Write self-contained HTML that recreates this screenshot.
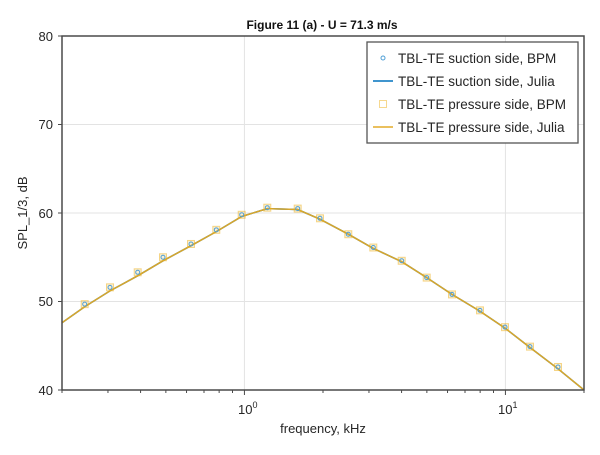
<!DOCTYPE html>
<html><head><meta charset="utf-8"><style>
body{margin:0;background:#fff;width:600px;height:450px;overflow:hidden}
svg text{font-family:"Liberation Sans",sans-serif;fill:#262626}
</style></head><body>
<svg id="s" width="600" height="450" viewBox="0 0 600 450">
<rect width="600" height="450" fill="#fff"/>
<g id="grid" stroke="#e3e3e3" stroke-width="1"></g>
<g id="data"></g>
<rect x="62" y="36" width="522" height="354" fill="none" stroke="#4a4a4a" stroke-width="1.5"/>
<g id="ticks" stroke="#4a4a4a" stroke-width="1"></g>
<text x="322" y="29" font-size="12" font-weight="bold" text-anchor="middle" style="fill:#111">Figure 11 (a) - U = 71.3 m/s</text>
<g font-size="13" text-anchor="end">
<text x="53" y="41">80</text><text x="53" y="129">70</text><text x="53" y="218">60</text><text x="53" y="306">50</text><text x="53" y="395">40</text>
</g>
<text x="238" y="414" font-size="13">10<tspan font-size="9" dy="-6">0</tspan></text>
<text x="498" y="414" font-size="13">10<tspan font-size="9" dy="-6">1</tspan></text>
<text x="323" y="433" font-size="13" text-anchor="middle">frequency, kHz</text>
<text transform="translate(27,213) rotate(-90)" font-size="13" text-anchor="middle">SPL_1/3, dB</text>
<rect x="367" y="42" width="211" height="101" fill="#fff" stroke="#555" stroke-width="1.3"/>
<circle cx="383" cy="58" r="2" fill="none" stroke="#4f9fd6" stroke-width="1"/>
<line x1="373" y1="81" x2="393" y2="81" stroke="#0072BD" stroke-width="1.5"/>
<rect x="379.5" y="100.5" width="7" height="7" fill="none" stroke="#EDB120" stroke-opacity="0.5" stroke-width="1"/>
<line x1="373" y1="127" x2="393" y2="127" stroke="#E3AC28" stroke-width="1.5"/>
<g font-size="13.5">
<text x="398" y="63">TBL-TE suction side, BPM</text>
<text x="398" y="86">TBL-TE suction side, Julia</text>
<text x="398" y="109">TBL-TE pressure side, BPM</text>
<text x="398" y="132">TBL-TE pressure side, Julia</text>
</g>
</svg>
<script>
var NS="http://www.w3.org/2000/svg";
function X(f){return 62+(Math.log10(f)+0.69897)*261;}
function Y(v){return 390-(v-40)*8.85;}
function el(p,t,a){var e=document.createElementNS(NS,t);for(var k in a)e.setAttribute(k,a[k]);p.appendChild(e);return e;}
var g=document.getElementById('grid'),tk=document.getElementById('ticks'),d=document.getElementById('data');
[1,10].forEach(function(f){el(g,'line',{x1:X(f),y1:36,x2:X(f),y2:390});});
[50,60,70].forEach(function(v){el(g,'line',{x1:62,y1:Y(v),x2:584,y2:Y(v)});});
[40,50,60,70,80].forEach(function(v){el(tk,'line',{x1:58,y1:Y(v),x2:62,y2:Y(v)});});
[0.2,0.3,0.4,0.5,0.6,0.7,0.8,0.9,1,2,3,4,5,6,7,8,9,10,20].forEach(function(f){var L=(f==1||f==10)?5:3;el(tk,'line',{x1:X(f),y1:390,x2:X(f),y2:390+L});});
var px=[84.7,110,137.7,163,191,216.3,241.7,267.3,297.7,320,348.3,373.3,401.7,426.7,452,480,505,530,558];
var pv=[49.7,51.6,53.3,55.0,56.5,58.1,59.8,60.6,60.5,59.4,57.6,56.1,54.6,52.7,50.8,49.0,47.1,44.9,42.6];
var lx=[62].concat(px).concat([584]);
var lv=[47.6,49.4,51.2,52.9,54.6,56.3,57.9,59.6,60.5,60.4,59.3,57.6,56.0,54.5,52.7,50.8,48.9,47.0,44.8,42.4,40];
var pts=lx.map(function(x,i){return x.toFixed(1)+','+Y(lv[i]).toFixed(1);}).join(' ');
el(d,'polyline',{points:pts,fill:'none',stroke:'#0072BD','stroke-width':1.5});
el(d,'polyline',{points:pts,fill:'none',stroke:'#D9A62A','stroke-width':1.5});
px.forEach(function(x,i){var y=Y(pv[i]);
el(d,'rect',{x:x-3.5,y:y-3.5,width:7,height:7,fill:'#EDB120','fill-opacity':0.2,stroke:'#EDB120','stroke-opacity':0.5,'stroke-width':1});
el(d,'circle',{cx:x,cy:y,r:2,fill:'none',stroke:'#4f9fd6','stroke-width':1});});
</script>
</body></html>
